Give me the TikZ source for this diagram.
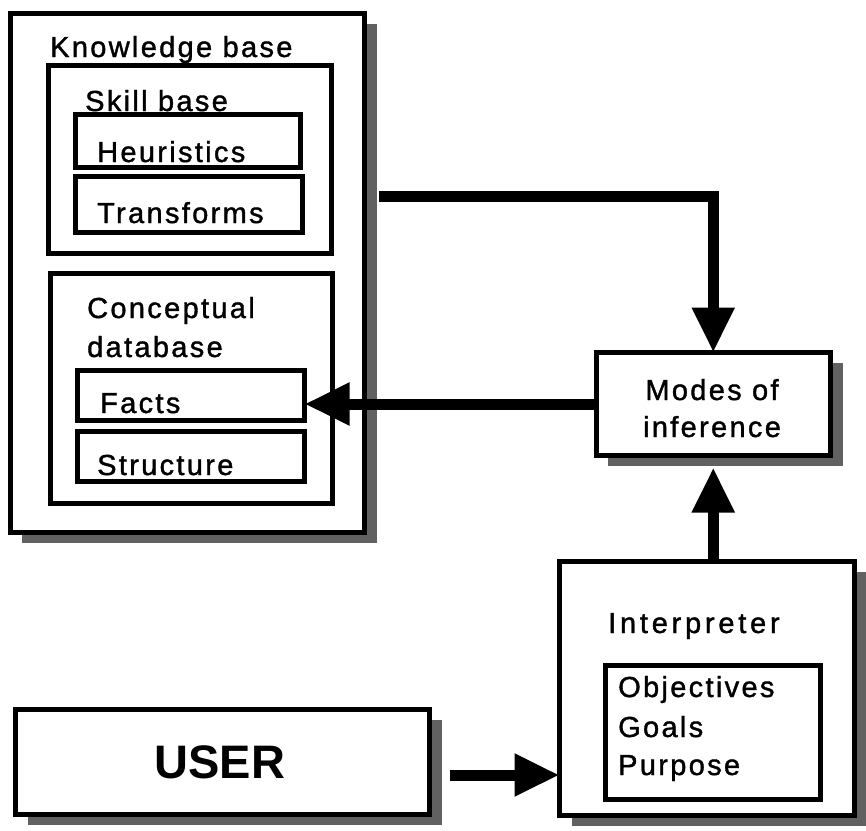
\documentclass[tikz,border=0pt]{standalone}
\usepackage{fontspec}
\setmainfont{Liberation Sans}[LetterSpace=8,FakeBold=1.3]
\newfontfamily\plainfont{Liberation Sans}
\usetikzlibrary{arrows.meta,shadows}
\begin{document}
\begin{tikzpicture}[x=1pt,y=-1pt,
  box/.style={draw,line width=5pt,fill=white,inner sep=0pt,outer sep=0pt,rectangle},
  shbox/.style={box,drop shadow={shadow xshift=12pt,shadow yshift=-10pt,fill=black!62,opacity=1}},
  lbl/.style={inner sep=0pt,font=\fontsize{29}{39}\selectfont,anchor=base west},
  clbl/.style={lbl,anchor=base},
  arr/.style={line width=11pt,-{Triangle[length=45pt,width=40pt]}}]
\useasboundingbox[fill=white] (0,0) rectangle (866,830);
% boxes
\node[shbox,minimum width=354.5pt,minimum height=519pt] (kb) at (187.25,273) {};
\node[box,minimum width=283pt,minimum height=188.5pt] (skill) at (190,159.25) {};
\node[box,minimum width=225.5pt,minimum height=53pt] (heur) at (187.75,141) {};
\node[box,minimum width=227.5pt,minimum height=56pt] (trans) at (188.75,204.5) {};
\node[box,minimum width=282.5pt,minimum height=230pt] (concept) at (191.25,388.5) {};
\node[box,minimum width=227pt,minimum height=50pt] (facts) at (191,395) {};
\node[box,minimum width=227pt,minimum height=50pt] (struct) at (191,456.5) {};
\node[shbox,minimum width=234.5pt,minimum height=103pt] (modes) at (713.25,404) {};
\node[shbox,minimum width=295pt,minimum height=254pt] (interp) at (707,688.5) {};
\node[box,minimum width=215pt,minimum height=134pt] (obj) at (713,732.5) {};
\node[shbox,minimum width=414pt,minimum height=105pt] (user) at (222.5,762) {};
% labels
\node[lbl] (tkb) at (50,57) {Knowledge base};
\node[lbl] (tskill) at (85,111) {Skill base};
\node[lbl] (theur) at (97,162) {Heuristics};
\node[lbl] (ttrans) at (97,223) {Transforms};
\node[lbl] (tconc1) at (87,318) {Conceptual};
\node[lbl] (tconc2) at (87,357) {database};
\node[lbl] (tfacts) at (100,413) {Facts};
\node[lbl] (tstruct) at (97,475) {Structure};
\node[clbl] (tmodes1) at (712,400) {Modes of};
\node[clbl] (tmodes2) at (712,437) {inference};
\node[lbl,font=\fontsize{29}{39}\addfontfeatures{LetterSpace=13}] (tinterp) at (608,633) {Interpreter};
\node[lbl] (tobj) at (618,697) {Objectives};
\node[lbl] (tgoals) at (618,737) {Goals};
\node[lbl] (tpurp) at (618,775) {Purpose};
\node[inner sep=0pt,anchor=base,font=\plainfont\bfseries\fontsize{47}{50}\selectfont] (tuser) at (220,778) {USER};
% connectors
\coordinate (kbout) at (379,196);
\coordinate (userout) at (450,775);
\draw[arr] (kbout) -| (modes.north);
\draw[arr] (modes.west) -- (modes.west -| facts.east);
\draw[arr] (interp.north -| modes.south) -- ([yshift=-12pt]modes.south);
\draw[arr] (userout) -- (userout -| interp.west);
\end{tikzpicture}
\end{document}
